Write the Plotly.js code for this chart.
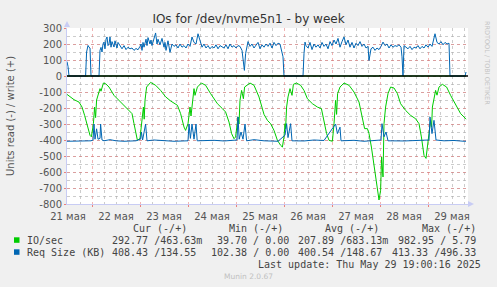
<!DOCTYPE html>
<html><head><meta charset="utf-8">
<script src="https://cdn.plot.ly/plotly-3.0.1.min.js"></script>
<style>html,body{margin:0;padding:0;background:#f0f0f0;}#chart{width:497px;height:287px;}</style>
</head><body><div id="chart"></div>
<script>
// hours from 2025-05-21 00:00
const readIOHours = [11.5,13,15,17.5,19,20.3,21.7,23,23.7,24.2,24.7,25.3,25.8,26.3,27,27.5,28,28.5,29.7,30.8,32.5,35,37.5,40,42.5,44,45,45.8,46.7,48,48.8,49.3,49.7,50.1,50.5,51.3,53.3,55.8,58.3,60.8,63.3,66.7,68.3,70,70.8,72,73,73.5,74.2,75,75.5,76.7,78.7,80.8,83.3,86.7,89.2,90.8,92.5,93.8,95,95.8,97,97.5,98,98.8,99.7,100.3,103,105,107.5,110,111.7,113.3,115,116.7,118.3,119.2,120,120.5,120.8,121.3,122,123,124,124.7,126.2,128.3,130,131.7,134.2,136.7,138.7,140,141.3,142.5,144.2,145,145.8,146.3,146.8,148,150,152.5,155,157.5,159.2,160.3,161.7,162.5,163.7,165,166.3,167.5,168.3,168.8,169.5,170,170.8,172,173.3,175,176.7,178.3,180.8,183.3,185.8,187.5,188.7,190,191,191.7,192.5,193.3,193.8,194.2,195,195.8,196.5,197.5,199.2,201.3,203.3,205.8,208.3,210,211];
const readIO = [115,128,148,163,194,246,319,371,380,340,298,194,260,150,121,100,79,95,44,48,69,121,152,183,215,235,298,360,402,390,298,220,194,270,152,69,40,58,90,130,156,183,235,319,340,298,194,250,152,79,121,69,44,58,110,173,204,225,288,360,392,381,256,300,152,90,142,69,44,58,131,240,277,298,340,402,433,444,381,298,330,194,131,79,121,52,44,58,90,142,173,194,204,277,360,402,408,298,152,240,110,69,44,58,100,163,267,329,329,360,444,569,694,775,715,506,631,298,194,110,69,75,110,173,215,246,267,298,381,496,515,454,360,277,320,194,131,90,120,69,52,69,121,183,235,256,270];

const readReqHours = [11.5,22,23.5,24.5,25,25.5,26.3,27,28,28.3,29,30,33,36,40,46,48.3,48.7,49.3,50.8,51.5,55,60,65,72,72.5,73.2,74,75,76,76.6,85,90,96.5,97,97.6,98.5,99.5,100.5,101.3,105,110,117,120.5,121.3,122,123.3,124,130,135,140,145.8,146.7,148,148.5,155,160,168.5,169,170,171,172,180,188,192.5,193,194,195,196,200,205,210,211];
const readReq = [408,407,405,400,300,395,330,395,390,300,400,405,398,405,408,405,395,350,400,300,405,400,403,408,405,300,390,300,395,300,405,402,406,400,256,395,350,395,300,405,398,405,408,370,298,385,298,405,406,400,403,300,360,320,405,402,408,400,298,380,350,405,406,404,400,256,360,277,400,405,403,408,408];

const writeReqHours = [11.5,12,12.5,20.8,21.3,22,22.5,23,23.5,27.5,28,28.5,29,29.5,30,30.5,31,31.5,32,32.5,33,33.5,34,35,35.5,36,36.5,37,38,39,40,41,42,43,44,45,46,47,48,48.5,49,49.5,50,51,51.5,52,53,53.5,54,55,55.8,56.5,57,58,59,60,60.5,61,62,63,64,65,66,67,68,69,70,71,72,73,74,75,76,77,78,79,80,81,82,83,84,85,86,87,88,89,90,91,92,93,94,95,96,97,98,99,99.7,100.2,100.8,101.5,102,103,104,105,106,107,108,109,110,111,112,113,114,115,116,117,118,118.8,119.5,120,129.5,130,130.5,131,132,133,134,135,136,137,138,139,140,141,142,143,144,145,146,147,148,149,150,151,152,153,154,155,156,157,158,159,160,161,162,162.5,163.5,164.5,165.5,166.5,167.5,168.5,169.5,170.5,171.5,172.5,173.5,174.5,175.5,176.5,177.5,178.5,179,179.5,180,181,182,183,184,185,186,187,188,189,190,191,192,193,194,195.5,196.5,197.5,198.5,199.5,200.5,201.5,202.5,203,210.5,211];
const writeReq = [90,60,0,0,150,191,180,175,0,0,160,179,150,200,212,170,230,244,190,200,244,180,215,181,220,200,175,210,185,170,190,165,180,170,175,160,172,164,185,200,160,210,180,230,190,240,200,225,190,240,269,200,230,195,235,180,210,160,220,148,200,185,195,175,200,180,190,175,200,185,244,210,200,264,215,180,200,175,190,170,185,175,195,170,190,180,175,195,170,200,180,190,175,190,185,160,100,35,140,200,215,185,200,175,190,210,170,195,180,200,185,205,175,210,190,205,200,160,120,0,0,140,212,190,175,210,165,200,180,195,175,210,185,200,170,215,190,225,200,235,180,215,244,195,225,180,210,175,205,190,215,185,200,175,185,97,170,180,160,175,165,185,212,190,200,175,195,180,190,185,195,180,120,0,190,180,170,185,165,180,175,190,170,185,175,195,180,200,185,264,210,200,215,195,210,200,205,0,0,25];

const writeIOHours = [11.5,72,72.5,73,167.5,168,168.5,211];
const writeIO = [0,0,3,0,0,5.79,0,0];

const yTicks = [-800,-700,-600,-500,-400,-300,-200,-100,0,100,200,300];
const days = ['2025-05-21','2025-05-22','2025-05-23','2025-05-24','2025-05-25','2025-05-26','2025-05-27','2025-05-28','2025-05-29'];
const dayLabels = ['21 мая','22 мая','23 мая','24 мая','25 мая','26 мая','27 мая','28 мая','29 мая'];

const legendHeader = ['Cur (-/+)','Min (-/+)','Avg (-/+)','Max (-/+)'];
const legendRows = [
  {name:'IO/sec', color:'#00CC00', cur:'292.77 /463.63m', min:'39.70 / 0.00', avg:'207.89 /683.13m', max:'982.95 / 5.79'},
  {name:'Req Size (KB)', color:'#0066B3', cur:'408.43 /134.55', min:'102.38 / 0.00', avg:'400.54 /148.67', max:'413.33 /496.33'}
];

const base = Date.UTC(2025,4,21);
const toDate = h => new Date(base + h*3600000).toISOString().replace('T',' ').slice(0,19);
const neg = a => a.map(v => -v);

const traces = [
  {x: readIOHours.map(toDate), y: neg(readIO), mode:'lines', line:{color:'#00CC00', width:1}, hoverinfo:'skip'},
  {x: readReqHours.map(toDate), y: neg(readReq), mode:'lines', line:{color:'#0066B3', width:1}, hoverinfo:'skip'},
  {x: writeIOHours.map(toDate), y: writeIO, mode:'lines', line:{color:'#00CC00', width:1}, hoverinfo:'skip'},
  {x: writeReqHours.map(toDate), y: writeReq, mode:'lines', line:{color:'#0066B3', width:1}, hoverinfo:'skip'},
  {x: [], y: [], xaxis:'x2', mode:'lines', hoverinfo:'skip'}
];

const L=67, R=468, T=28, B=204;
const px = x => (x-L)/(R-L);
const py = y => (B-y)/(B-T);
const mono = {family:'DejaVu Sans Mono', size:10, color:'#444'};
const ann = [];
function txt(text, x, y, font, xanchor, extra){
  ann.push(Object.assign({text, x:px(x), y:py(y), xref:'paper', yref:'paper', xanchor:xanchor||'left', yanchor:'middle', showarrow:false, font:font||mono, borderpad:0}, extra||{}));
}
[188, 284, 380, 477].forEach((x,i)=>txt(legendHeader[i], x, 228.5, mono, 'right'));
const rowY = [240.5, 252.5];
legendRows.forEach((r,i)=>{
  const y = rowY[i];
  txt(r.name, 26, y);
  txt(r.cur, i===0 ? 203 : 197, y, mono, 'right');
  txt(r.min, 290, y, mono, 'right');
  txt(r.avg, i===0 ? 389 : 383, y, mono, 'right');
  txt(r.max, 477, y, mono, 'right');
});
txt('Last update: Thu May 29 19:00:16 2025', 482, 264, mono, 'right');
txt('Munin 2.0.67', 248, 276.5, {family:'DejaVu Sans', size:7.5, color:'#c0c0c0'}, 'center');
txt('Units read (-) / write (+)', 10, 116, {family:'DejaVu Sans', size:10, color:'#555'}, 'center', {textangle:-90});
txt('RRDTOOL / TOBI OETIKER', 487, 63, {family:'DejaVu Sans', size:6.5, color:'#c4c4c4'}, 'center', {textangle:90});

const shapes = [
  {type:'line', xref:'paper', yref:'y', x0:0, x1:1, y0:0, y1:0, line:{color:'#000', width:1.3}, layer:'above'},
  {type:'rect', xref:'paper', yref:'paper', x0:px(14), x1:px(19.5), y0:py(237.3), y1:py(242.8), fillcolor:'#00CC00', line:{width:0}},
  {type:'rect', xref:'paper', yref:'paper', x0:px(14), x1:px(19.5), y0:py(249.3), y1:py(254.8), fillcolor:'#0066B3', line:{width:0}},
  {type:'path', xref:'paper', yref:'paper', path:`M ${px(64)} ${py(27)} L ${px(70)} ${py(27)} L ${px(67)} ${py(21)} Z`, fillcolor:'#c8ccf4', line:{width:0}},
  {type:'path', xref:'paper', yref:'paper', path:`M ${px(468)} ${py(201)} L ${px(468)} ${py(207)} L ${px(474)} ${py(204)} Z`, fillcolor:'#c8ccf4', line:{width:0}}
];

const xRange = [toDate(11.5), toDate(212)];
const layout = {
  width:497, height:287,
  margin:{l:L, r:497-R, t:T, b:287-B},
  paper_bgcolor:'#f0f0f0', plot_bgcolor:'#ffffff',
  showlegend:false,
  title:{text:'IOs for /dev/nvme5n1 - by week', font:{family:'DejaVu Sans', size:12, color:'#333'}, x:0.5, xref:'container', xanchor:'center', y:1-19/287, yanchor:'middle'},
  xaxis:{type:'date', range:xRange, tick0:'2025-05-22', dtick:86400000, showticklabels:false,
    showgrid:true, gridcolor:'rgba(230,120,120,0.55)', griddash:'dot', gridwidth:1,
    minor:{dtick:6*3600000, showgrid:true, gridcolor:'rgba(170,170,170,0.6)', griddash:'dot', ticks:''},
    ticks:'outside', ticklen:2, tickcolor:'rgba(230,80,80,0.7)',
    showline:true, linecolor:'#c8ccf4', linewidth:1, zeroline:false, fixedrange:true},
  xaxis2:{type:'date', overlaying:'x', anchor:'y', side:'bottom', range:xRange,
    tickvals: days.map(d => d + ' 12:00'), ticktext: dayLabels,
    ticks:'outside', ticklen:3, tickcolor:'rgba(0,0,0,0)', showgrid:false, showline:false, zeroline:false,
    tickfont:{family:'DejaVu Sans', size:10, color:'#555'}, fixedrange:true},
  yaxis:{range:[-800,300], tickvals:yTicks, ticktext:yTicks.map(String),
    showgrid:true, gridcolor:'rgba(230,120,120,0.55)', griddash:'dot', gridwidth:1,
    minor:{dtick:50, showgrid:true, gridcolor:'rgba(170,170,170,0.6)', griddash:'dot', ticks:''},
    ticks:'outside', ticklen:2, tickcolor:'rgba(230,80,80,0.7)',
    showline:true, linecolor:'#c8ccf4', linewidth:1, zeroline:false,
    tickfont:{family:'DejaVu Sans', size:10, color:'#555'}, fixedrange:true},
  annotations: ann,
  shapes: shapes
};
Plotly.newPlot('chart', traces, layout, {staticPlot:true, displayModeBar:false});
</script></body></html>
